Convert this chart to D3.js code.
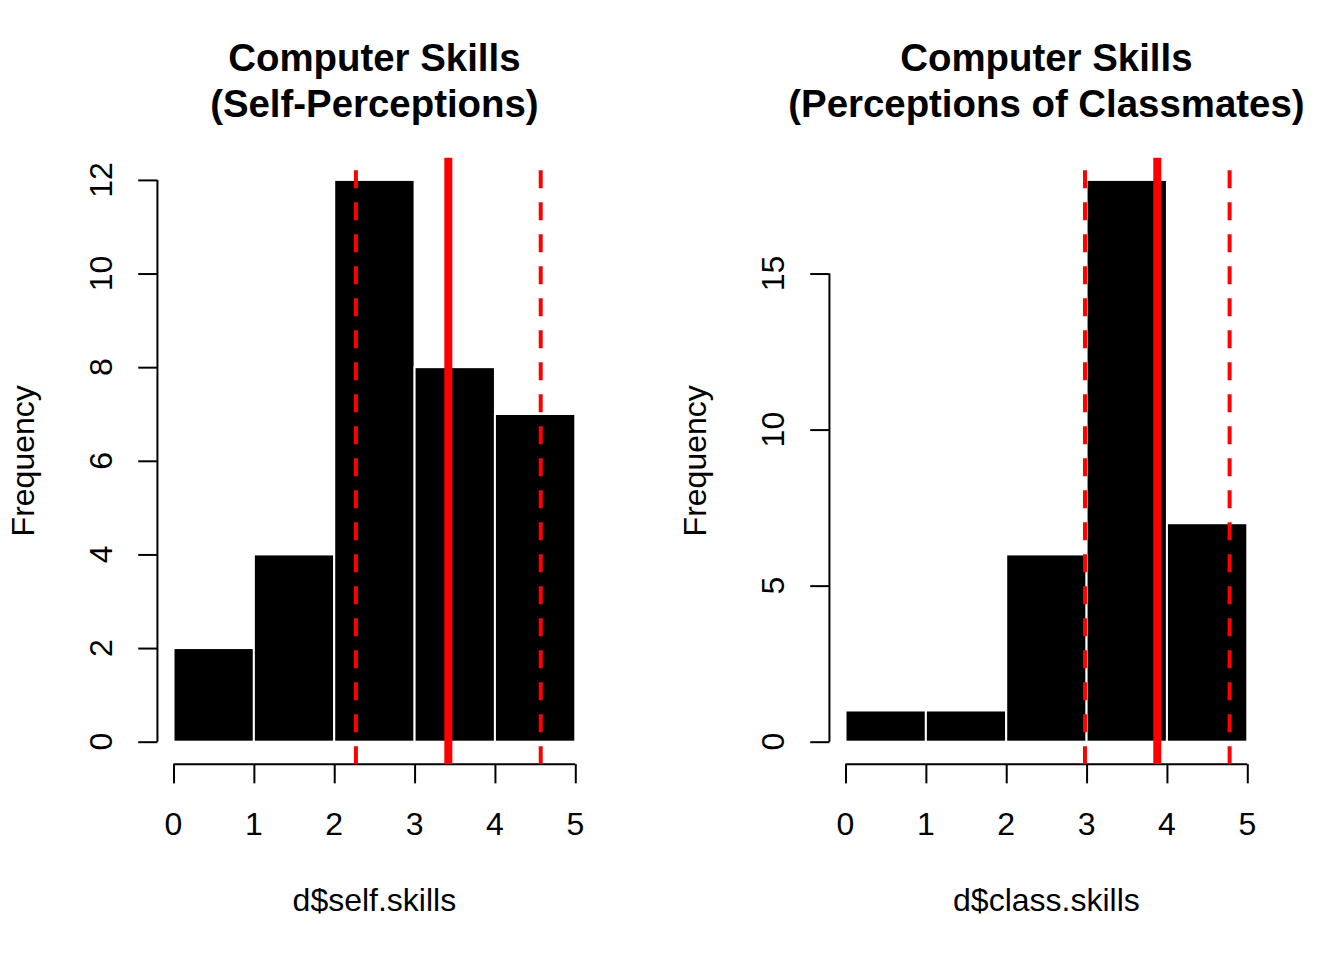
<!DOCTYPE html>
<html>
<head>
<meta charset="utf-8">
<script src="https://cdn.jsdelivr.net/npm/d3@7"></script>
<style>
  body { margin: 0; background: #fff; }
  text { font-family: "Liberation Sans", Arial, Helvetica, sans-serif; fill: #000; }
</style>
</head>
<body>
<div id="chart"></div>
<script>
// histogram bins (both panels use breaks 0..5)
var breaks = [0, 1, 2, 3, 4, 5];
var selfCounts = [2, 4, 12, 8, 7];
var classCounts = [1, 1, 6, 18, 7];

// mean and sd lines
var selfMean = 3.42, selfSd = 1.15;
var classMean = 3.88, classSd = 0.90;

var selfTicksY = [0, 2, 4, 6, 8, 10, 12];
var classTicksY = [0, 5, 10, 15];
var ticksX = [0, 1, 2, 3, 4, 5];

var panels = [
  { title: ["Computer Skills", "(Self-Perceptions)"], xlab: "d$self.skills",
    counts: selfCounts, yTicks: selfTicksY, mean: selfMean, sd: selfSd },
  { title: ["Computer Skills", "(Perceptions of Classmates)"], xlab: "d$class.skills",
    counts: classCounts, yTicks: classTicksY, mean: classMean, sd: classSd }
];

var svgWidth = 1344, svgHeight = 960;
var panelWidth = svgWidth / 2;
var lineH = 38.4; // one R margin line
var margin = { top: 4.1 * lineH, bottom: 5.1 * lineH, left: 4.1 * lineH, right: 2.1 * lineH };
var width = panelWidth - margin.left - margin.right;
var height = svgHeight - margin.top - margin.bottom;

var svg = d3.select("#chart")
  .append("svg")
  .attr("width", svgWidth)
  .attr("height", svgHeight);

panels.forEach(function(p, i) {
  var g = svg.append("g")
    .attr("transform", `translate(${i * panelWidth + margin.left}, ${margin.top})`);

  // R style 4% extension of the ranges
  var x0 = breaks[0], x1 = breaks[breaks.length - 1];
  var xPad = (x1 - x0) * 0.04;
  var xScale = d3.scaleLinear().domain([x0 - xPad, x1 + xPad]).range([0, width]);

  var yMax = d3.max(p.counts);
  var yScale = d3.scaleLinear().domain([-yMax * 0.04, yMax * 1.04]).range([height, 0]);

  var bins = p.counts.map(function(c, j) { return { x0: breaks[j], x1: breaks[j + 1], n: c }; });

  g.selectAll("rect.bar")
    .data(bins)
    .enter()
    .append("rect")
    .attr("class", "bar")
    .attr("x", d => xScale(d.x0))
    .attr("y", d => yScale(d.n))
    .attr("width", d => xScale(d.x1) - xScale(d.x0))
    .attr("height", d => yScale(0) - yScale(d.n))
    .attr("fill", "#000")
    .attr("stroke", "#fff")
    .attr("stroke-width", 2);

  // x axis, at bottom of plot region
  var xAxis = d3.axisBottom(xScale).tickValues(ticksX).tickSize(19.2).tickPadding(0).tickFormat("");
  var gx = g.append("g").attr("transform", `translate(0, ${height})`).call(xAxis);
  gx.select(".domain").attr("d", `M${xScale(x0)},0H${xScale(x1)}`);
  gx.selectAll("line, path").attr("stroke", "#000").attr("stroke-width", 2);

  g.selectAll("text.xtick")
    .data(ticksX)
    .enter()
    .append("text")
    .attr("class", "xtick")
    .attr("x", d => xScale(d))
    .attr("y", height + 71)
    .attr("text-anchor", "middle")
    .attr("font-size", "32px")
    .text(d => d);

  // y axis
  var yT = p.yTicks;
  var yAxis = d3.axisLeft(yScale).tickValues(yT).tickSize(19.2).tickPadding(0).tickFormat("");
  var gy = g.append("g").call(yAxis);
  gy.select(".domain").attr("d", `M0,${yScale(yT[0])}V${yScale(yT[yT.length - 1])}`);
  gy.selectAll("line, path").attr("stroke", "#000").attr("stroke-width", 2);

  g.selectAll("text.ytick")
    .data(yT)
    .enter()
    .append("text")
    .attr("class", "ytick")
    .attr("transform", d => `translate(-45, ${yScale(d)}) rotate(-90)`)
    .attr("text-anchor", "middle")
    .attr("font-size", "32px")
    .text(d => d);

  // mean +- sd lines
  var clipId = "clip" + i;
  g.append("clipPath").attr("id", clipId)
    .append("rect").attr("width", width).attr("height", height);

  var lines = g.append("g").attr("clip-path", `url(#${clipId})`);
  lines.selectAll("line.sd")
    .data([p.mean - p.sd, p.mean + p.sd])
    .enter()
    .append("line")
    .attr("class", "sd")
    .attr("x1", d => xScale(d))
    .attr("x2", d => xScale(d))
    .attr("y1", height)
    .attr("y2", 0)
    .attr("stroke", "#ff0000")
    .attr("stroke-width", 4)
    .attr("stroke-dasharray", "18,14");

  lines.append("line")
    .attr("x1", xScale(p.mean))
    .attr("x2", xScale(p.mean))
    .attr("y1", height)
    .attr("y2", 0)
    .attr("stroke", "#ff0000")
    .attr("stroke-width", 8);

  // titles
  var cx = width / 2;
  g.append("text")
    .attr("x", cx)
    .attr("y", 71 - margin.top)
    .attr("text-anchor", "middle")
    .attr("font-size", "38.4px")
    .attr("font-weight", "bold")
    .text(p.title[0]);
  g.append("text")
    .attr("x", cx)
    .attr("y", 117 - margin.top)
    .attr("text-anchor", "middle")
    .attr("font-size", "38.4px")
    .attr("font-weight", "bold")
    .text(p.title[1]);

  g.append("text")
    .attr("x", cx)
    .attr("y", height + 147)
    .attr("text-anchor", "middle")
    .attr("font-size", "32px")
    .text(p.xlab);

  g.append("text")
    .attr("transform", `translate(${34 - margin.left}, ${height / 2}) rotate(-90)`)
    .attr("text-anchor", "middle")
    .attr("font-size", "32px")
    .text("Frequency");
});
</script>
</body>
</html>
